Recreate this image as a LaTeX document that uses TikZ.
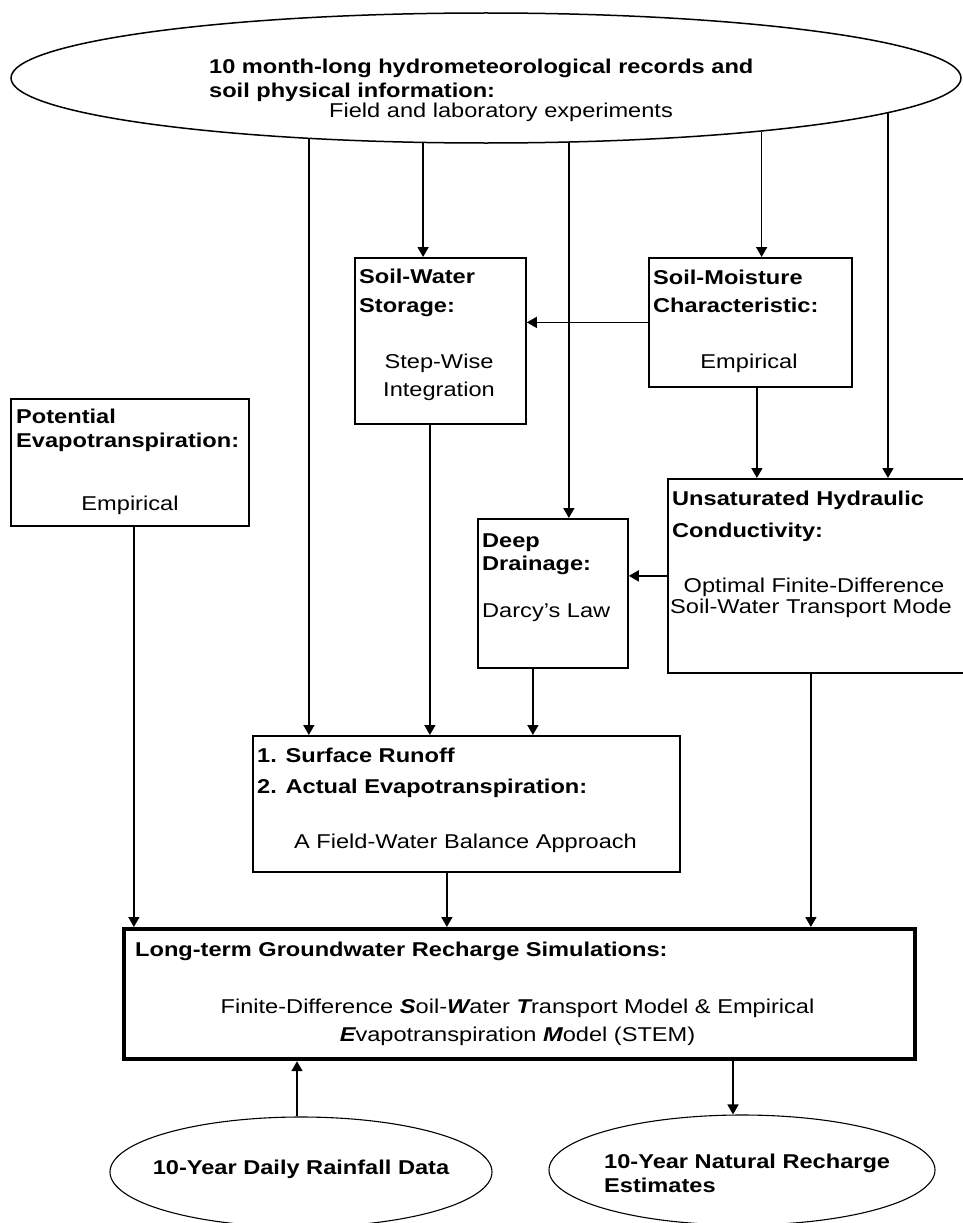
\documentclass[tikz,border=0pt]{standalone}
\usepackage{fontspec}
\setmainfont{Liberation Sans}[FakeStretch=1.18]
\usetikzlibrary{shapes.geometric,arrows.meta}
\newcommand\dfont{\fontsize{20}{24}\selectfont}
\newcommand\bxi[1]{{\bfseries\itshape #1}}
\tikzset{
  box/.style={draw, line width=1.8pt, inner sep=0pt, anchor=north west},
  ltbox/.style={draw, line width=4.2pt, inner sep=0pt, anchor=north west},
  ell/.style={draw, ellipse, line width=1.5pt, inner sep=0pt},
  bt/.style={inner sep=0pt, anchor=base west, font=\dfont\bfseries},
  rt/.style={inner sep=0pt, anchor=base west, font=\dfont},
  bc/.style={inner sep=0pt, anchor=base, font=\dfont\bfseries},
  rc/.style={inner sep=0pt, anchor=base, font=\dfont},
  arr/.style={line width=1.6pt, -{Triangle[length=10pt,width=11pt]}}
}
\begin{document}
\begin{tikzpicture}[x=1pt,y=-1pt]
\clip (0,0) rectangle (963,1223);
\fill[white] (0,0) rectangle (963,1223);

% ellipses
\node[ell, minimum width=950pt, minimum height=130pt] (top) at (486,78) {};
\node[ell, line width=1.1pt, minimum width=382pt, minimum height=110pt] (le) at (301,1172) {};
\node[ell, line width=1.1pt, minimum width=386pt, minimum height=110pt] (re) at (742,1170) {};

% boxes
\node[box, minimum width=171pt, minimum height=166pt] (sws) at (354,257) {};
\node[box, minimum width=203pt, minimum height=129pt] (sm) at (648,257) {};
\node[box, minimum width=238pt, minimum height=127pt] (pe) at (10,398) {};
\node[box, minimum width=150pt, minimum height=149pt] (dd) at (477,518) {};
\node[box, minimum width=313pt, minimum height=194pt] (us) at (667,478) {};
\node[box, minimum width=427pt, minimum height=136pt] (sr) at (252,735) {};
\node[ltbox, minimum width=791pt, minimum height=130pt] (lt) at (122,927) {};

% texts
\node[bt] (t1) at (209,74) {10 month-long hydrometeorological records and};
\node[bt] (t2) at (209,97) {soil physical information:};
\node[rt] (t3) at (329,117) {Field and laboratory experiments};

\node[bt] (sws1) at (359,283) {Soil-Water};
\node[bt] (sws2) at (359,312) {Storage:};
\node[rc] (sws3) at (439,368) {Step-Wise};
\node[rc] (sws4) at (439,396) {Integration};

\node[bt] (sm1) at (653,284) {Soil-Moisture};
\node[bt] (sm2) at (653,312) {Characteristic:};
\node[rc] (sm3) at (749,368) {Empirical};

\node[bt] (pe1) at (16,423) {Potential};
\node[bt] (pe2) at (16,447) {Evapotranspiration:};
\node[rc] (pe3) at (130,510) {Empirical};

\node[bt] (dd1) at (482,547) {Deep};
\node[bt] (dd2) at (482,570) {Drainage:};
\node[rt] (dd3) at (482,617) {Darcy's Law};

\node[bt] (us1) at (672,505) {Unsaturated Hydraulic};
\node[bt] (us2) at (672,537) {Conductivity:};
\node[rc] (us3) at (814,592) {Optimal Finite-Difference};
\node[rt] (us4) at (670,613) {Soil-Water Transport Mode};

\node[bt] (sr1) at (257,762) {1. Surface Runoff};
\node[bt] (sr2) at (257,793) {2. Actual Evapotranspiration:};
\node[rc] (sr3) at (465.5,848) {A Field-Water Balance Approach};

\node[bt] (lt1) at (135,956) {Long-term Groundwater Recharge Simulations:};
\node[rc] (lt2) at (517.5,1013) {Finite-Difference \bxi{S}oil-\bxi{W}ater \bxi{T}ransport Model \& Empirical};
\node[rc] (lt3) at (517.5,1041) {\bxi{E}vapotranspiration \bxi{M}odel (STEM)};

\node[bc] (le1) at (301,1174) {10-Year Daily Rainfall Data};
\node[bt] (re1) at (604,1168) {10-Year Natural Recharge};
\node[bt] (re2) at (604,1192) {Estimates};

% connectors
\draw[arr] (top.226.58) -- (top.226.58 |- sws.north);
\draw[arr] (top.199.53) -- (top.199.53 |- sr.north);
\draw[arr] (top.322.02) -- (top.322.02 |- dd.north);
\draw[arr] (top.349.09) -- (top.349.09 |- sm.north);
\draw[arr] (top.355.16) -- (top.355.16 |- us.north);
\draw[arr] (sm.west) -- (sm.west -| sws.east);
\draw[arr] ([xshift=6.5pt]sm.south) -- ([xshift=6.5pt]sm.south |- us.north);
\draw[arr] (us.west) -- (us.west -| dd.east);
\draw[arr] ([xshift=-10.5pt]sws.south) -- ([xshift=-10.5pt]sws.south |- sr.north);
\draw[arr] ([xshift=-20pt]dd.south) -- ([xshift=-20pt]dd.south |- sr.north);
\draw[arr] ([xshift=4pt]pe.south) -- ([xshift=4pt]pe.south |- lt.north);
\draw[arr] ([xshift=-19.5pt]sr.south) -- ([xshift=-19.5pt]sr.south |- lt.north);
\draw[arr] ([xshift=-13.5pt]us.south) -- ([xshift=-13.5pt]us.south |- lt.north);
\draw[arr] ([xshift=-9pt]re.north |- lt.south) -- ([xshift=-9pt]re.north);
\draw[arr] ([xshift=-4pt]le.north) -- ([xshift=-4pt]le.north |- lt.south);
\end{tikzpicture}
\end{document}
